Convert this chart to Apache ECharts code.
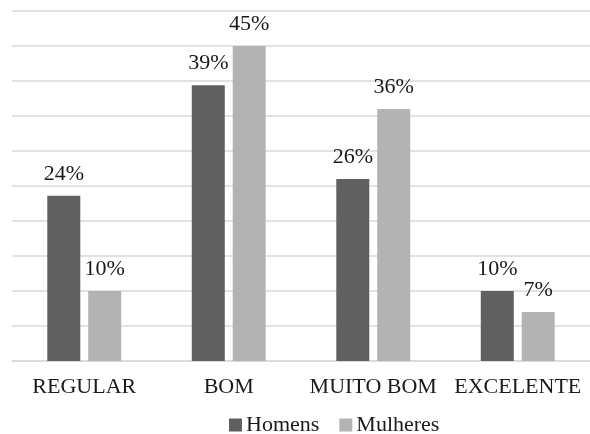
<!DOCTYPE html>
<html>
<head>
<meta charset="utf-8">
<script src="https://cdn.jsdelivr.net/npm/echarts@6/dist/echarts.min.js"></script>
<style>
html,body{margin:0;padding:0;background:#fff;}
#chart{width:590px;height:434px;}
</style>
</head>
<body>
<div id="chart"></div>
<script>
var categories = ['REGULAR', 'BOM', 'MUITO BOM', 'EXCELENTE'];
var homens = [23.6, 39.4, 26, 10];
var mulheres = [10, 45, 36, 7];
var seriesNames = ['Homens', 'Mulheres'];

var FONT = '"Liberation Serif", "Times New Roman", serif';
var chart = echarts.init(document.getElementById('chart'), null, {renderer: 'canvas'});
var labelOpt = {
  show: true,
  position: 'top',
  distance: 11,
  fontFamily: FONT,
  fontSize: 22,
  color: '#1a1a1a',
  formatter: function (p) { return Math.round(p.value) + '%'; }
};
chart.setOption({
  animation: false,
  backgroundColor: '#ffffff',
  grid: {left: 12, top: 11, width: 584, height: 350, containLabel: false},
  legend: {
    data: seriesNames,
    left: 229,
    top: 414,
    padding: 0,
    itemWidth: 13,
    itemHeight: 13,
    itemGap: 20,
    icon: 'rect',
    textStyle: {fontFamily: FONT, fontSize: 22, color: '#1a1a1a', padding: [0, 0, 0, -1]}
  },
  xAxis: {
    type: 'category',
    data: categories,
    axisLine: {show: true, lineStyle: {color: '#d9d9d9', width: 1.5}},
    axisTick: {show: false},
    axisLabel: {fontFamily: FONT, fontSize: 22, color: '#1a1a1a', margin: 15, interval: 0}
  },
  yAxis: {
    type: 'value',
    min: 0,
    max: 50,
    interval: 5,
    axisLabel: {show: false},
    axisLine: {show: false},
    axisTick: {show: false},
    splitLine: {show: true, lineStyle: {color: '#d9d9d9', width: 1.5}}
  },
  series: [
    {name: seriesNames[0], type: 'bar', data: homens, barWidth: 33, barGap: '24%',
     itemStyle: {color: '#606060'}, label: labelOpt},
    {name: seriesNames[1], type: 'bar', data: mulheres, barWidth: 33, barGap: '24%',
     itemStyle: {color: '#b3b3b3'}, label: labelOpt}
  ]
});
</script>
</body>
</html>
